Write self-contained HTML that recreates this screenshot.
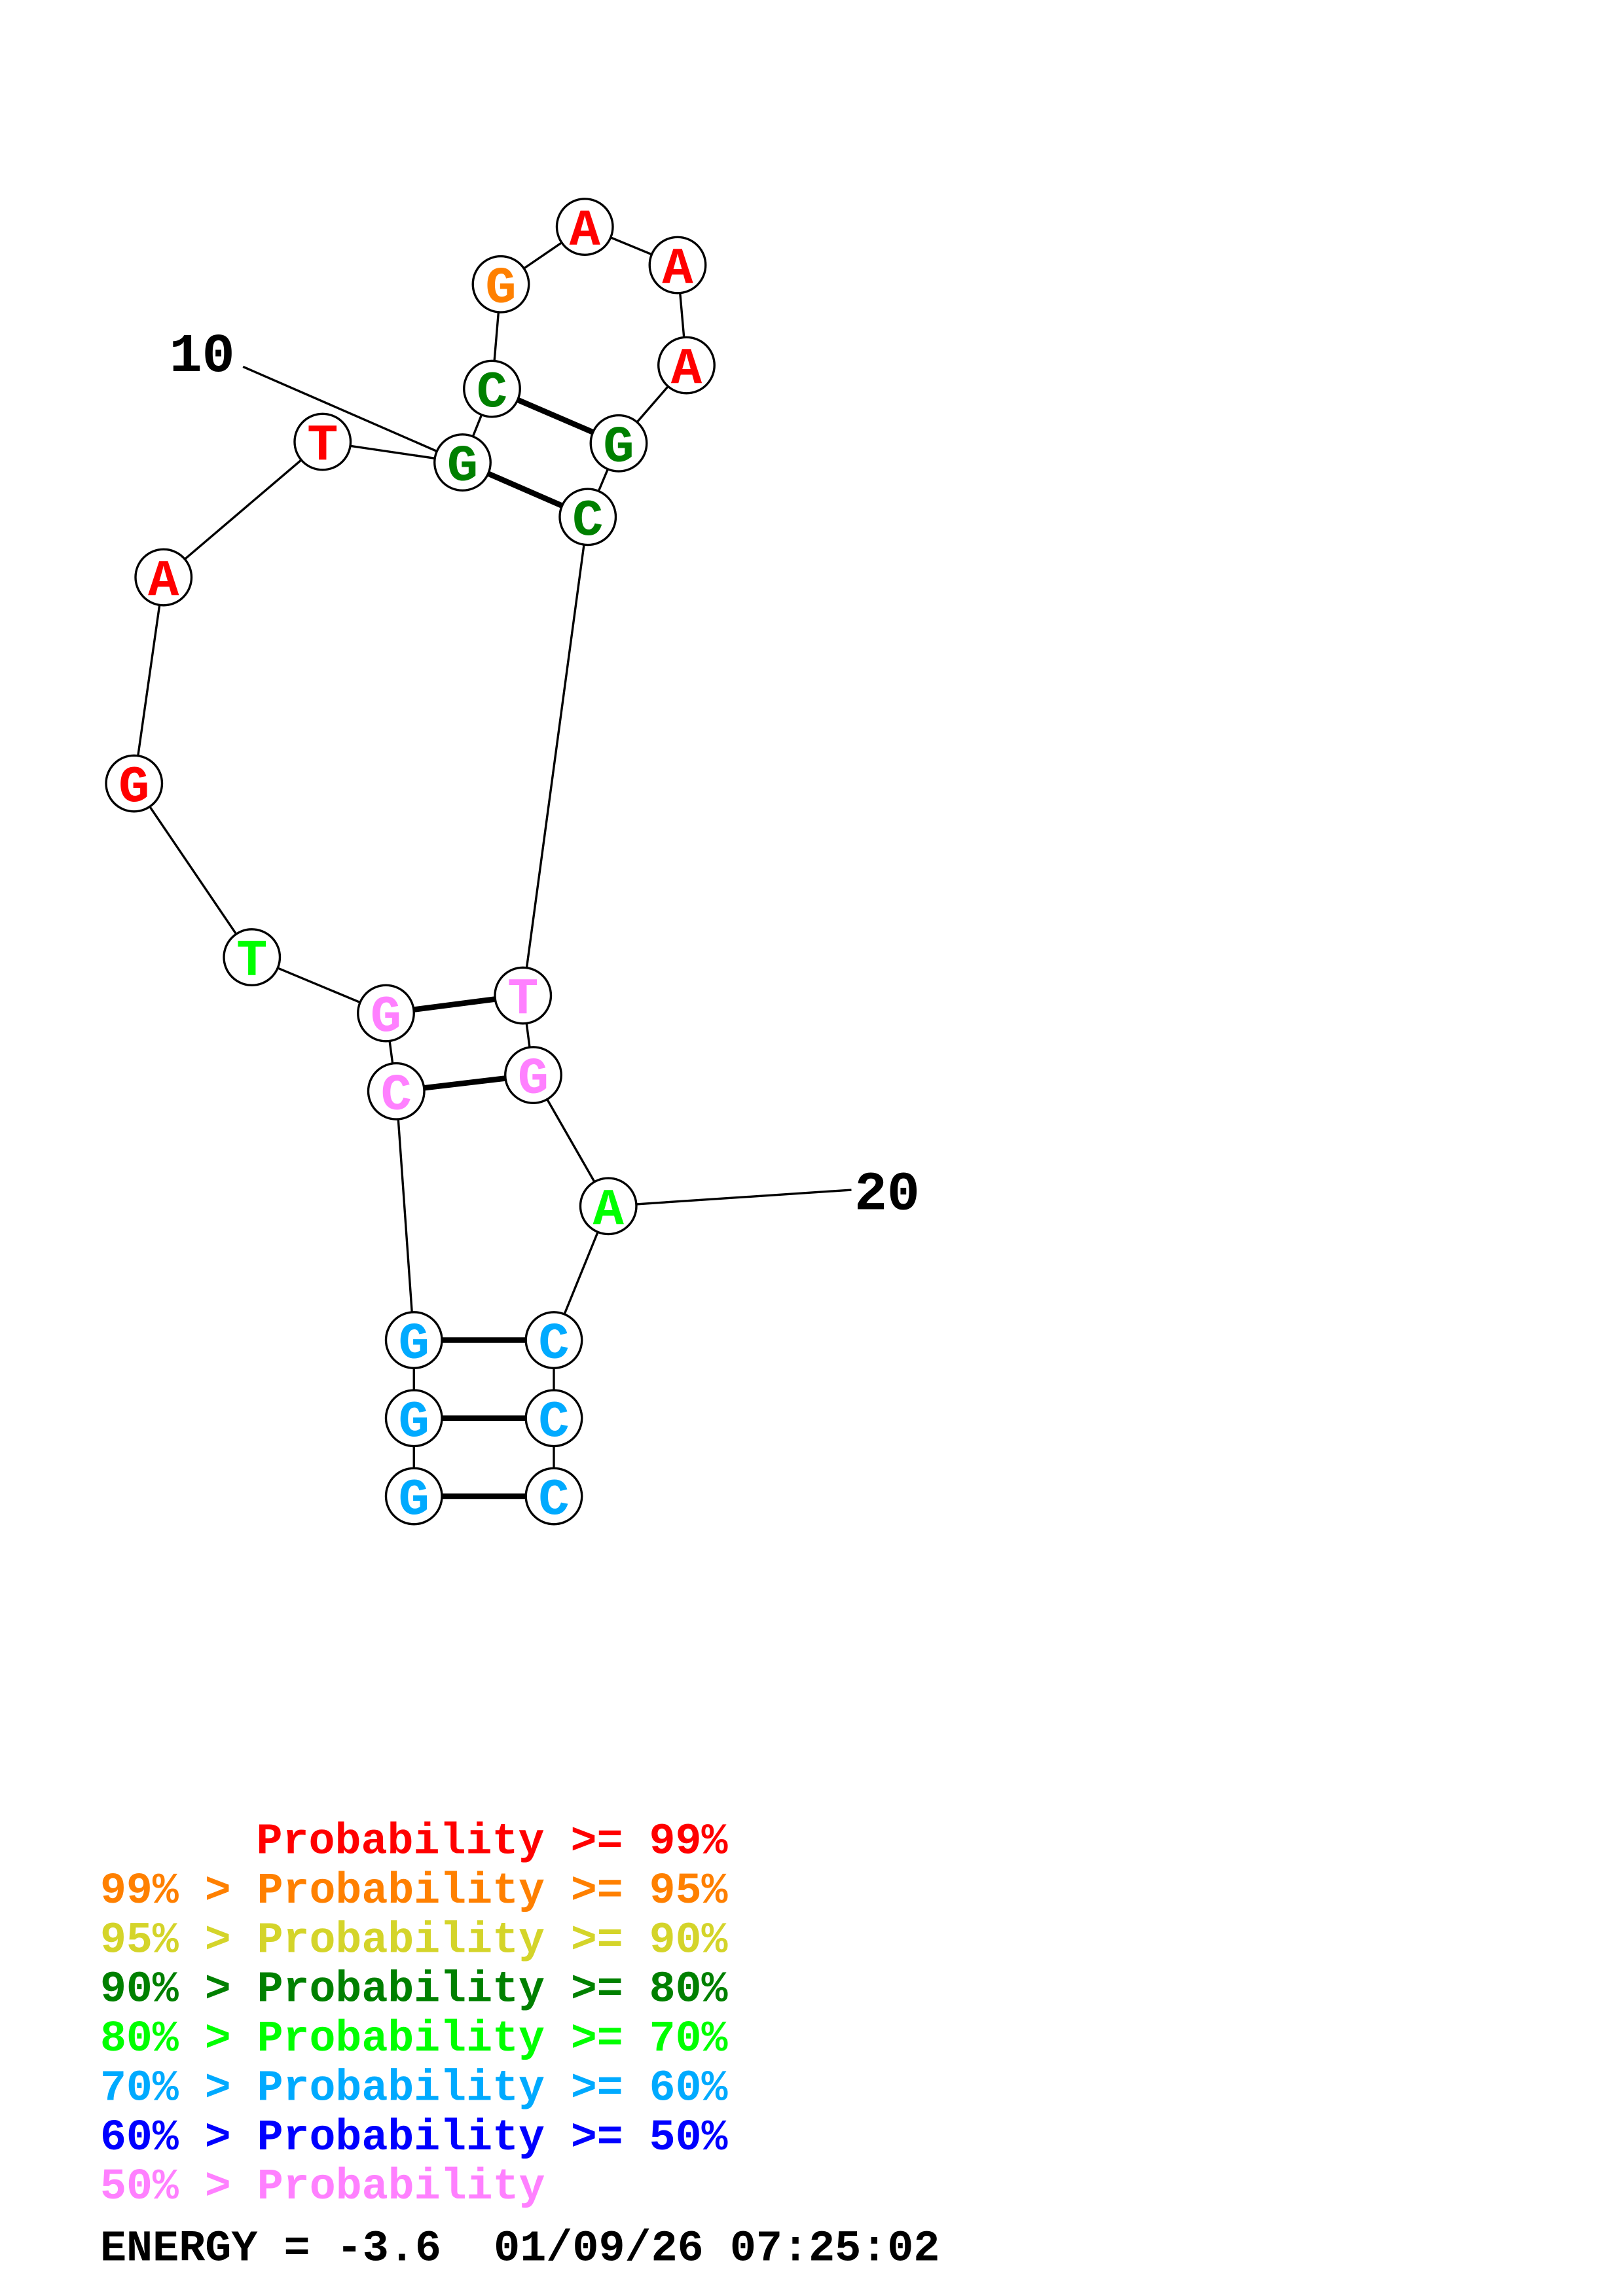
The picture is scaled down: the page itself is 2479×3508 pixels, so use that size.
<!DOCTYPE html>
<html><head><meta charset="utf-8"><style>
html,body{margin:0;padding:0;background:#fff;}
svg{display:block;}
text{font-family:"Liberation Mono","DejaVu Sans Mono",monospace;font-weight:bold;white-space:pre;}
</style></head><body>
<svg width="2479" height="3508" viewBox="0 0 1101.8 1559.1" xmlns="http://www.w3.org/2000/svg">
<rect width="1101.8" height="1559.1" fill="#fff"/>
<g stroke="#000" stroke-width="1.5" fill="none">
<polyline points="281,1016 281,963 281,910 269,741 262,688 171,650 91,532 111,392 219,300 314,314 334,264 340,193 397,154 460,180 466,248 420,301 399,351 355,676 362,730 413,819 376,910 376,963 376,1016"/>
<line x1="165" y1="249" x2="314" y2="314"/>
<line x1="413" y1="819" x2="578" y2="808"/>
</g>
<g stroke="#000" stroke-width="3.8">
<line x1="281" y1="1016" x2="376" y2="1016"/>
<line x1="281" y1="963" x2="376" y2="963"/>
<line x1="281" y1="910" x2="376" y2="910"/>
<line x1="269" y1="741" x2="362" y2="730"/>
<line x1="262" y1="688" x2="355" y2="676"/>
<line x1="314" y1="314" x2="399" y2="351"/>
<line x1="334" y1="264" x2="420" y2="301"/>
</g>
<g stroke="#000" stroke-width="1.5" fill="#fff">
<circle cx="281" cy="1016" r="19"/><circle cx="281" cy="963" r="19"/><circle cx="281" cy="910" r="19"/>
<circle cx="269" cy="741" r="19"/><circle cx="262" cy="688" r="19"/><circle cx="171" cy="650" r="19"/>
<circle cx="91" cy="532" r="19"/><circle cx="111" cy="392" r="19"/><circle cx="219" cy="300" r="19"/>
<circle cx="314" cy="314" r="19"/><circle cx="334" cy="264" r="19"/><circle cx="340" cy="193" r="19"/>
<circle cx="397" cy="154" r="19"/><circle cx="460" cy="180" r="19"/><circle cx="466" cy="248" r="19"/>
<circle cx="420" cy="301" r="19"/><circle cx="399" cy="351" r="19"/><circle cx="355" cy="676" r="19"/>
<circle cx="362" cy="730" r="19"/><circle cx="413" cy="819" r="19"/><circle cx="376" cy="910" r="19"/>
<circle cx="376" cy="963" r="19"/><circle cx="376" cy="1016" r="19"/>
</g>
<g font-size="35" text-anchor="middle">
<text x="281" y="1028" fill="#00aaff">G</text><text x="281" y="975" fill="#00aaff">G</text><text x="281" y="922" fill="#00aaff">G</text>
<text x="269" y="753" fill="#ff80ff">C</text><text x="262" y="700" fill="#ff80ff">G</text><text x="171" y="662" fill="#00ff00">T</text>
<text x="91" y="544" fill="#ff0000">G</text><text x="111" y="404" fill="#ff0000">A</text><text x="219" y="312" fill="#ff0000">T</text>
<text x="314" y="326" fill="#008000">G</text><text x="334" y="276" fill="#008000">C</text><text x="340" y="205" fill="#ff8000">G</text>
<text x="397" y="166" fill="#ff0000">A</text><text x="460" y="192" fill="#ff0000">A</text><text x="466" y="260" fill="#ff0000">A</text>
<text x="420" y="313" fill="#008000">G</text><text x="399" y="363" fill="#008000">C</text><text x="355" y="688" fill="#ff80ff">T</text>
<text x="362" y="742" fill="#ff80ff">G</text><text x="413" y="831" fill="#00ff00">A</text><text x="376" y="922" fill="#00aaff">C</text>
<text x="376" y="975" fill="#00aaff">C</text><text x="376" y="1028" fill="#00aaff">C</text>
</g>
<text x="115" y="252" font-size="37" fill="#000">10</text>
<text x="580" y="821" font-size="37" fill="#000">20</text>
<g font-size="29.5">
<text x="174" y="1258.5" fill="#ff0000" textLength="320" lengthAdjust="spacingAndGlyphs">Probability &gt;= 99%</text>
<text x="68" y="1292" fill="#ff8000" textLength="426" lengthAdjust="spacingAndGlyphs">99% &gt; Probability &gt;= 95%</text>
<text x="68" y="1325.5" fill="#d4d42a" textLength="426" lengthAdjust="spacingAndGlyphs">95% &gt; Probability &gt;= 90%</text>
<text x="68" y="1359" fill="#008000" textLength="426" lengthAdjust="spacingAndGlyphs">90% &gt; Probability &gt;= 80%</text>
<text x="68" y="1392.5" fill="#00ff00" textLength="426" lengthAdjust="spacingAndGlyphs">80% &gt; Probability &gt;= 70%</text>
<text x="68" y="1426" fill="#00aaff" textLength="426" lengthAdjust="spacingAndGlyphs">70% &gt; Probability &gt;= 60%</text>
<text x="68" y="1459.5" fill="#0000ff" textLength="426" lengthAdjust="spacingAndGlyphs">60% &gt; Probability &gt;= 50%</text>
<text x="68" y="1493" fill="#ff80ff" textLength="302" lengthAdjust="spacingAndGlyphs">50% &gt; Probability</text>
<text x="68" y="1535" fill="#000" textLength="570" lengthAdjust="spacingAndGlyphs">ENERGY = -3.6  01/09/26 07:25:02</text>
</g>
</svg>
</body></html>
